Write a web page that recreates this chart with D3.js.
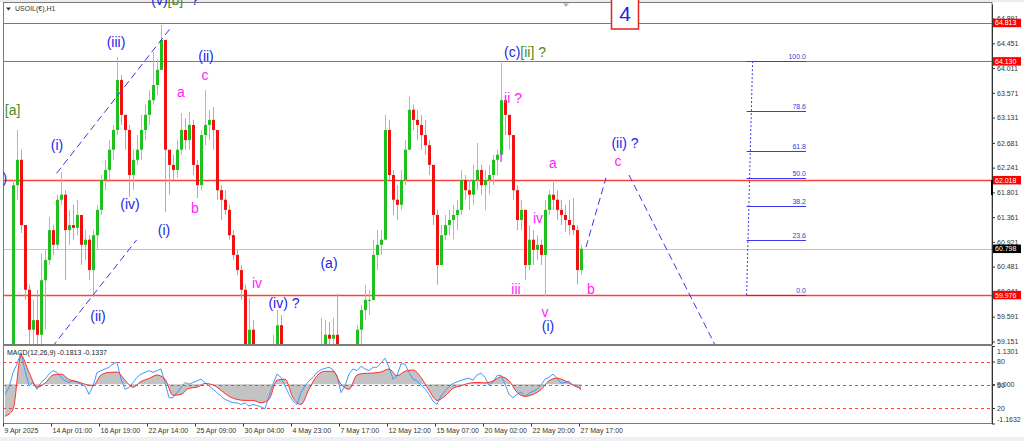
<!DOCTYPE html>
<html>
<head>
<meta charset="utf-8">
<title>USOIL H1</title>
<script src="https://cdn.jsdelivr.net/npm/d3@7"></script>
<style>
  body { margin: 0; background: #fff; }
  svg { display: block; font-family: "Liberation Sans", Arial, sans-serif; }
  .wave { font-size: 14px; white-space: pre; }
</style>
</head>
<body>
<svg id="chart" width="1024" height="441"></svg>
<script>
// price data, one candle per 4px column (roughly four H1 bars each)
var highs = [58.95, 59.00, 62.02, 62.91, 62.56, 61.13, 60.16, 59.89, 60.07, 60.72,
  60.78, 61.36, 61.22, 61.76, 62.16, 61.84, 61.49, 61.58, 61.67, 61.40,
  61.13, 61.04, 61.13, 61.58, 62.11, 62.38, 62.73, 63.00, 64.21, 63.89,
  63.09, 63.00, 62.56, 62.82, 63.18, 63.36, 63.62, 64.30, 64.16, 64.78,
  64.42, 62.56, 62.47, 62.73, 63.21, 63.12, 63.23, 63.09, 62.38, 62.91,
  63.62, 63.27, 63.32, 62.91, 61.93, 61.84, 61.58, 61.13, 60.78, 60.51,
  60.16, 59.92, 59.53, 58.94, 58.80, 58.85, 59.00, 59.27, 59.71, 59.62,
  59.10, 58.95, 58.80, 58.70, 58.75, 58.90, 59.00, 59.05, 59.10, 59.57,
  59.53, 59.50, 59.57, 60.00, 59.10, 59.00, 59.05, 59.10, 59.44, 59.80,
  60.16, 60.07, 60.96, 61.13, 61.13, 63.18, 63.09, 62.20, 61.93, 62.20,
  62.73, 63.50, 63.36, 63.27, 63.18, 63.09, 62.73, 62.29, 61.49, 61.22,
  61.40, 61.49, 61.58, 61.67, 62.20, 62.11, 62.02, 62.29, 62.68, 62.29,
  62.20, 62.29, 62.47, 62.56, 64.10, 63.53, 63.18, 62.82, 61.93, 61.67,
  61.40, 61.22, 61.13, 61.04, 60.96, 61.67, 61.84, 61.99, 61.84, 61.67,
  61.58, 61.67, 61.70, 61.22, 60.87];
var lows = [58.60, 58.70, 58.85, 61.67, 61.08, 59.89, 59.00, 58.82, 59.00, 59.09,
  59.36, 60.51, 60.69, 60.78, 61.58, 60.24, 60.87, 60.96, 61.04, 60.51,
  60.60, 60.24, 59.94, 60.78, 61.40, 61.84, 62.02, 62.38, 62.82, 63.00,
  62.56, 61.72, 61.84, 62.29, 62.38, 62.73, 63.00, 63.36, 63.53, 63.98,
  61.45, 61.76, 62.02, 62.06, 62.47, 62.56, 62.56, 62.11, 61.70, 61.84,
  62.64, 62.73, 62.56, 61.67, 61.31, 61.40, 60.96, 60.60, 60.33, 59.89,
  59.00, 58.91, 58.65, 58.41, 58.40, 58.45, 58.60, 58.80, 58.90, 58.95,
  58.70, 58.55, 58.40, 58.30, 58.35, 58.50, 58.60, 58.65, 58.70, 58.85,
  58.90, 58.95, 59.00, 58.95, 58.70, 58.60, 58.70, 58.80, 58.95, 59.09,
  59.53, 59.62, 59.89, 60.42, 60.69, 60.96, 62.02, 61.40, 61.31, 61.49,
  61.93, 62.56, 62.91, 62.73, 62.56, 62.47, 62.11, 61.22, 60.16, 60.51,
  60.96, 61.04, 60.96, 61.13, 61.40, 61.67, 61.49, 61.58, 61.84, 61.76,
  61.49, 61.76, 61.93, 62.11, 62.38, 62.82, 62.56, 61.67, 61.13, 61.13,
  60.24, 60.42, 60.51, 60.60, 60.51, 59.96, 61.40, 61.49, 61.31, 61.22,
  61.10, 61.04, 61.04, 60.16, 60.33];
var closes = [58.80, 58.90, 61.93, 62.38, 61.22, 60.07, 59.36, 59.53, 59.27, 60.24,
  60.60, 61.13, 60.87, 61.67, 61.76, 61.13, 61.22, 61.17, 61.40, 60.87,
  60.96, 60.42, 61.04, 61.49, 62.02, 62.20, 62.56, 62.91, 63.80, 63.18,
  62.91, 62.11, 62.38, 62.56, 62.91, 63.18, 63.44, 63.71, 63.98, 64.51,
  62.56, 62.29, 62.20, 62.56, 62.91, 62.73, 63.00, 62.29, 61.93, 62.82,
  63.00, 63.09, 62.91, 61.84, 61.67, 61.49, 61.04, 60.69, 60.42, 60.07,
  59.09, 59.36, 58.82, 58.67, 58.60, 58.75, 58.90, 59.05, 59.44, 59.05,
  58.80, 58.70, 58.55, 58.45, 58.60, 58.70, 58.85, 58.90, 59.00, 59.10,
  59.27, 59.20, 59.27, 59.05, 58.85, 58.80, 58.95, 59.05, 59.36, 59.71,
  59.89, 59.89, 60.69, 60.87, 60.96, 62.91, 62.11, 61.67, 61.58, 62.02,
  62.56, 63.27, 63.09, 63.00, 62.82, 62.64, 62.29, 61.40, 60.51, 61.04,
  61.22, 61.31, 61.40, 61.49, 62.02, 61.84, 61.76, 62.02, 62.20, 61.93,
  62.02, 62.11, 62.38, 62.47, 63.44, 63.18, 62.82, 61.84, 61.31, 61.49,
  60.51, 60.96, 60.78, 60.87, 60.69, 61.49, 61.76, 61.67, 61.49, 61.40,
  61.31, 61.22, 61.13, 60.42, 60.80];
var firstOpen = 58.70;

// MACD(12,26,9): main line per candle, signal every 2nd candle
var macdMain = [-0.30, -0.10, 0.34, 0.60, 0.94, 0.40, -0.05, 0.05, -0.15, 0.05,
  0.15, 0.30, 0.40, 0.35, 0.20, 0.10, 0.05, 0.10, 0.05, 0.00,
  -0.05, -0.30, -0.05, 0.35, 0.40, 0.45, 0.50, 0.60, 0.65, 0.15,
  -0.15, -0.10, 0.05, 0.20, 0.30, 0.35, 0.40, 0.35, 0.40, 0.45,
  0.05, -0.40, -0.40, -0.25, -0.10, 0.05, 0.00, 0.05, 0.10, 0.15,
  0.05, -0.05, -0.15, -0.25, -0.35, -0.45, -0.50, -0.55, -0.55, -0.60,
  -0.55, -0.65, -0.60, -0.63, -0.67, -0.73, -0.35, 0.00, 0.30, 0.20,
  -0.05, -0.30, -0.50, -0.60, -0.25, -0.05, 0.10, 0.20, 0.35, 0.43,
  0.47, 0.50, 0.43, 0.25, -0.25, -0.05, 0.30, 0.45, 0.40, 0.53,
  0.45, 0.40, 0.50, 0.50, 0.63, 0.77, 0.50, 0.15, 0.25, 0.60,
  0.60, 0.35, 0.15, 0.10, -0.03, -0.13, -0.30, -0.50, -0.60, -0.35,
  -0.20, -0.07, 0.02, 0.07, 0.11, 0.15, 0.18, 0.12, 0.27, 0.33,
  0.20, -0.03, 0.07, 0.25, 0.27, 0.00, -0.30, -0.40, -0.30, -0.23,
  -0.37, -0.27, -0.21, -0.15, -0.03, 0.15, 0.20, 0.30, 0.17, 0.03,
  0.05, 0.09, -0.03, -0.03, -0.18];
var macdSignal = [-0.95, -0.75, 0.85, 0.35, -0.09, 0.03, 0.27, 0.30, 0.14, 0.08,
  0.00, -0.05, 0.27, 0.35, 0.36, 0.12, -0.09, 0.08, 0.17, 0.27,
  0.15, -0.33, -0.30, -0.12, -0.09, 0.02, -0.02, -0.18, -0.36, -0.45,
  -0.48, -0.48, -0.55, -0.45, 0.12, 0.15, -0.40, -0.60, -0.15, 0.25,
  0.38, 0.38, 0.00, -0.15, 0.27, 0.32, 0.33, 0.36, 0.45, 0.25,
  0.38, 0.42, 0.20, -0.18, -0.48, -0.35, -0.12, -0.05, 0.03, 0.05,
  0.04, 0.09, 0.22, 0.10, -0.24, -0.36, -0.30, -0.16, 0.10, 0.18,
  0.10, -0.03, -0.13];

var timeLabels = ["9 Apr 2025", "14 Apr 01:00", "16 Apr 19:00", "22 Apr 14:00", "25 Apr 09:00",
  "30 Apr 04:00", "4 May 23:00", "7 May 17:00", "12 May 12:00", "15 May 07:00",
  "20 May 02:00", "22 May 20:00", "27 May 17:00"];
var priceTicks = ["64.891", "64.451", "64.011", "63.571", "63.131", "62.681", "62.241",
  "61.801", "61.361", "60.921", "60.481", "60.041", "59.591", "59.151"];
var levelLines = [64.813, 64.130, 62.018, 59.976];
var bidPrice = 60.798;
var fibLevels = [0, 23.6, 38.2, 50.0, 61.8, 78.6, 100.0];
var fibLow = 59.976, fibHigh = 64.130;
var fibBars = [185.4, 186.9, 200.25]; // 0% anchor, 100% anchor, right end of level lines
var channelUpper = [[12.9, 62.14], [41.7, 64.75]];
var channelLower = [[11.75, 59.05], [32.9, 60.955]];
var projUp = [[145.25, 60.83], [150.25, 62.06]];
var projDown = [[156, 62.11], [181, 58.60]];
var stochLevels = [80, 50, 20];
var macdTicks = [1.1301, 0, -1.1632];

// wave labels: text, bar, price, colour key ("|" splits coloured parts)
var waveLabels = [
  ["(v)|[b]|  ?", 42.5, 65.22, "b|g|b"],
  ["[a]", 1.9, 63.27, "g"],
  ["(c)", -1.5, 62.06, "b"],
  ["(i)", 13, 62.64, "b"],
  ["(iii)", 27.75, 64.47, "b"],
  ["(ii)", 50.25, 64.23, "b"],
  ["c", 50, 63.89, "m"],
  ["a", 44, 63.59, "m"],
  ["(iv)", 31.25, 61.60, "b"],
  ["b", 47.5, 61.52, "m"],
  ["(i)", 39.75, 61.13, "b"],
  ["(ii)", 23.25, 59.60, "b"],
  ["iv", 63, 60.19, "m"],
  ["(iv) ?", 69.75, 59.84, "b"],
  ["(a)", 81, 60.55, "b"],
  ["(c)|[ii] ?", 130, 64.30, "b|g"],
  ["ii ?", 127, 63.48, "m"],
  ["i", 124, 62.43, "m"],
  ["a", 137, 62.32, "m"],
  ["(ii) ?", 155, 62.68, "b"],
  ["c", 153.25, 62.36, "m"],
  ["iv", 133.25, 61.35, "m"],
  ["iii", 127.75, 60.08, "m"],
  ["b", 146.5, 60.08, "m"],
  ["v", 135, 59.68, "m"],
  ["(i)", 135.75, 59.43, "b"]
];

var colors = { b: "#2424e8", m: "#ff22ff", g: "#4b8b26" };
var left = 3, right = 992, mainTop = 4, mainBottom = 344, subTop = 346, subBottom = 423.5;

var svg = d3.select("#chart");
var x = d3.scaleLinear().domain([0, 246.75]).range([5, 992]);
var y = d3.scaleLinear().domain([59.106, 65.150]).range([mainBottom, mainTop]);
var yMacd = d3.scaleLinear().domain([-1.1632, 1.1301]).range([subBottom, subTop]);
var yLevel = d3.scaleLinear().domain([0, 100]).range([subBottom, subTop]);
function crisp(v) { return Math.round(v) + 0.5; }

// background bands
svg.append("rect").attr("width", 1024).attr("height", 441).attr("fill", "#fff");
svg.append("rect").attr("width", 1024).attr("height", 2).attr("fill", "#ececec");
svg.append("rect").attr("y", 437).attr("width", 1024).attr("height", 4).attr("fill", "#eef0f3");

var defs = svg.append("defs");
defs.append("clipPath").attr("id", "mainClip").append("rect")
  .attr("x", left).attr("y", mainTop).attr("width", right - left).attr("height", mainBottom - mainTop);
defs.append("clipPath").attr("id", "subClip").append("rect")
  .attr("x", left).attr("y", subTop).attr("width", right - left).attr("height", subBottom - subTop);
defs.append("clipPath").attr("id", "labelClip").append("rect")
  .attr("x", left).attr("y", 0).attr("width", right - left).attr("height", mainBottom);

var main = svg.append("g").attr("clip-path", "url(#mainClip)");

// bid line and horizontal levels
main.append("line").attr("x1", left).attr("x2", right)
  .attr("y1", crisp(y(bidPrice))).attr("y2", crisp(y(bidPrice)))
  .attr("stroke", "#c4c4c4");
main.selectAll(".lvl").data(levelLines).enter().append("line")
  .attr("x1", left).attr("x2", right)
  .attr("y1", function(d) { return crisp(y(d)); })
  .attr("y2", function(d) { return crisp(y(d)); })
  .attr("stroke", "#ff4040")
  .attr("stroke-width", function(d, i) { return i > 1 ? 1.6 : 1; });

// candles
var bars = closes.map(function(c, i) {
  var o = i ? closes[i - 1] : firstOpen;
  return { i: i, o: o, c: c, h: Math.max(highs[i], o, c), l: Math.min(lows[i], o, c) };
});
main.selectAll(".wick").data(bars).enter().append("line")
  .attr("x1", function(d) { return Math.round(x(d.i)) + 0.5; })
  .attr("x2", function(d) { return Math.round(x(d.i)) + 0.5; })
  .attr("y1", function(d) { return y(d.h); })
  .attr("y2", function(d) { return y(d.l); })
  .attr("stroke", function(d) { return d.c >= d.o ? "#7ede7e" : "#ff8a8a"; });
main.selectAll(".body").data(bars).enter().append("rect")
  .attr("x", function(d) { return Math.round(x(d.i)) - 1; })
  .attr("width", 3)
  .attr("y", function(d) { return y(Math.max(d.o, d.c)); })
  .attr("height", function(d) { return Math.max(1, Math.abs(y(d.o) - y(d.c))); })
  .attr("fill", function(d) { return d.c >= d.o ? "#1fbf1f" : "#f01010"; });

// dashed wave lines
var segLine = d3.line().x(function(d) { return x(d[0]); }).y(function(d) { return y(d[1]); });
[channelUpper, channelLower, projUp, projDown].forEach(function(seg) {
  main.append("path").attr("d", segLine(seg)).attr("fill", "none")
    .attr("stroke", "#3737ee").attr("stroke-dasharray", "7,4");
});

// fibonacci retracement
function fibY(l) { return y(fibLow + (fibHigh - fibLow) * l / 100); }
main.append("line")
  .attr("x1", x(fibBars[0])).attr("y1", fibY(0))
  .attr("x2", x(fibBars[1])).attr("y2", fibY(100))
  .attr("stroke", "#3a3af0").attr("stroke-dasharray", "2,2");
main.selectAll(".fib").data(fibLevels).enter().append("line")
  .attr("x1", x(fibBars[0])).attr("x2", x(fibBars[2]))
  .attr("y1", function(d) { return crisp(fibY(d)); })
  .attr("y2", function(d) { return crisp(fibY(d)); })
  .attr("stroke", "#3a3af0");
main.selectAll(".fibt").data(fibLevels).enter().append("text")
  .attr("x", x(fibBars[2])).attr("y", function(d) { return fibY(d) - 2; })
  .attr("text-anchor", "end").attr("font-size", 7).attr("fill", "#3a3ad8")
  .text(function(d) { return d.toFixed(1); });

// MACD panel
var sub = svg.append("g").attr("clip-path", "url(#subClip)");
var sigX = function(d, j) { return x(2 * j); };
sub.append("path").datum(macdSignal)
  .attr("d", d3.area().x(sigX).y0(yMacd(0)).y1(function(d) { return yMacd(d); }).curve(d3.curveMonotoneX))
  .attr("fill", "#c3c3c3");
sub.selectAll(".stl").data(stochLevels).enter().append("line")
  .attr("x1", left).attr("x2", right)
  .attr("y1", function(d) { return crisp(yLevel(d)); })
  .attr("y2", function(d) { return crisp(yLevel(d)); })
  .attr("stroke", "#ff4040").attr("stroke-dasharray", "3,3");
sub.append("path").datum(macdMain)
  .attr("d", d3.line().x(function(d, i) { return x(i); }).y(function(d) { return yMacd(d); }))
  .attr("fill", "none").attr("stroke", "#3d9bff");
sub.append("path").datum(macdSignal)
  .attr("d", d3.line().x(sigX).y(function(d) { return yMacd(d); }).curve(d3.curveMonotoneX))
  .attr("fill", "none").attr("stroke", "#ff3030");

svg.append("text").attr("x", 7).attr("y", 353).attr("dy", "0.35em")
  .attr("font-size", 7).attr("fill", "#222").text("MACD(12,26,9) -0.1813 -0.1337");

// panel frames
svg.append("rect").attr("x", left + 0.5).attr("y", 2.5).attr("width", right - left - 0.5).attr("height", 342)
  .attr("fill", "none").attr("stroke", "#7a7a7a");
svg.append("rect").attr("x", left + 0.5).attr("y", 345.5).attr("width", right - left - 0.5).attr("height", 78)
  .attr("fill", "none").attr("stroke", "#7a7a7a");

// header
svg.append("path").attr("d", "M6,7.5h5l-2.5,3z").attr("fill", "#333");
svg.append("text").attr("x", 15).attr("y", 9).attr("dy", "0.35em")
  .attr("font-size", 7).attr("fill", "#333").text("USOIL(€),H1");
svg.append("path").attr("d", "M563,3.5h6l-3,3.5z").attr("fill", "#b0b0b0");

// wave labels
var lab = svg.append("g").attr("clip-path", "url(#labelClip)");
waveLabels.forEach(function(w) {
  var parts = w[0].split("|"), cols = w[3].split("|");
  var t = lab.append("text").attr("class", "wave")
    .attr("x", x(w[1])).attr("y", y(w[2])).attr("dy", "0.35em")
    .attr("text-anchor", "middle");
  parts.forEach(function(p, k) {
    t.append("tspan").attr("fill", colors[cols[k]]).text(p);
  });
});

// wave degree box
svg.append("rect").attr("x", 611.5).attr("y", -2).attr("width", 27).attr("height", 31)
  .attr("fill", "#fff").attr("stroke", "#e52020").attr("stroke-width", 1.5);
svg.append("text").attr("x", 625).attr("y", 20.5).attr("text-anchor", "middle")
  .attr("font-size", 21).attr("fill", "#2020e0").text("4");

// price axis
function styleAxis(g) {
  g.attr("font-size", 7).attr("font-family", null).attr("color", "#333");
}
svg.append("g").attr("transform", "translate(" + right + ",0)")
  .call(d3.axisRight(y).tickValues(priceTicks.map(Number))
    .tickFormat(function(d, i) { return priceTicks[i]; })
    .tickSize(3).tickSizeOuter(0).tickPadding(2))
  .call(styleAxis);

// MACD axis labels
svg.append("g").attr("transform", "translate(" + right + ",0)")
  .call(d3.axisRight(yMacd).tickValues(macdTicks)
    .tickFormat(function(d) { return d === 0 ? "0.000" : d.toFixed(4); })
    .tickSize(3).tickSizeOuter(0).tickPadding(2))
  .call(styleAxis)
  .call(function(g) {
    g.selectAll("text").attr("dy", function(d) { return d > 1 ? "1.05em" : d < -1 ? "-0.3em" : "0.32em"; });
  });
svg.append("g").attr("transform", "translate(" + right + ",0)")
  .call(d3.axisRight(yLevel).tickValues(stochLevels).tickSize(3).tickSizeOuter(0).tickPadding(2))
  .call(styleAxis)
  .call(function(g) { g.select(".domain").remove(); });

// price tags
var tags = levelLines.map(function(p) { return { p: p, fill: "#ff0000" }; })
  .concat([{ p: bidPrice, fill: "#000" }]);
var tg = svg.selectAll(".tag").data(tags).enter().append("g");
tg.append("rect").attr("x", 993).attr("width", 28).attr("height", 8.5)
  .attr("y", function(d) { return y(d.p) - 4.25; })
  .attr("fill", function(d) { return d.fill; });
tg.append("text").attr("x", 995).attr("y", function(d) { return y(d.p); }).attr("dy", "0.35em")
  .attr("font-size", 7).attr("fill", "#fff").text(function(d) { return d.p.toFixed(3); });
svg.append("rect").attr("x", 991).attr("y", 180).attr("width", 2).attr("height", 15).attr("fill", "#000");

// time axis
svg.append("g").attr("transform", "translate(0," + subBottom + ")")
  .call(d3.axisBottom(x).tickValues(timeLabels.map(function(d, k) { return 12 * k - 0.5; }))
    .tickFormat(function(d, k) { return timeLabels[k]; })
    .tickSize(3).tickPadding(2))
  .call(styleAxis)
  .call(function(g) {
    g.select(".domain").remove();
    g.selectAll("text").attr("text-anchor", "start").attr("dx", 1);
  });
</script>
</body>
</html>
